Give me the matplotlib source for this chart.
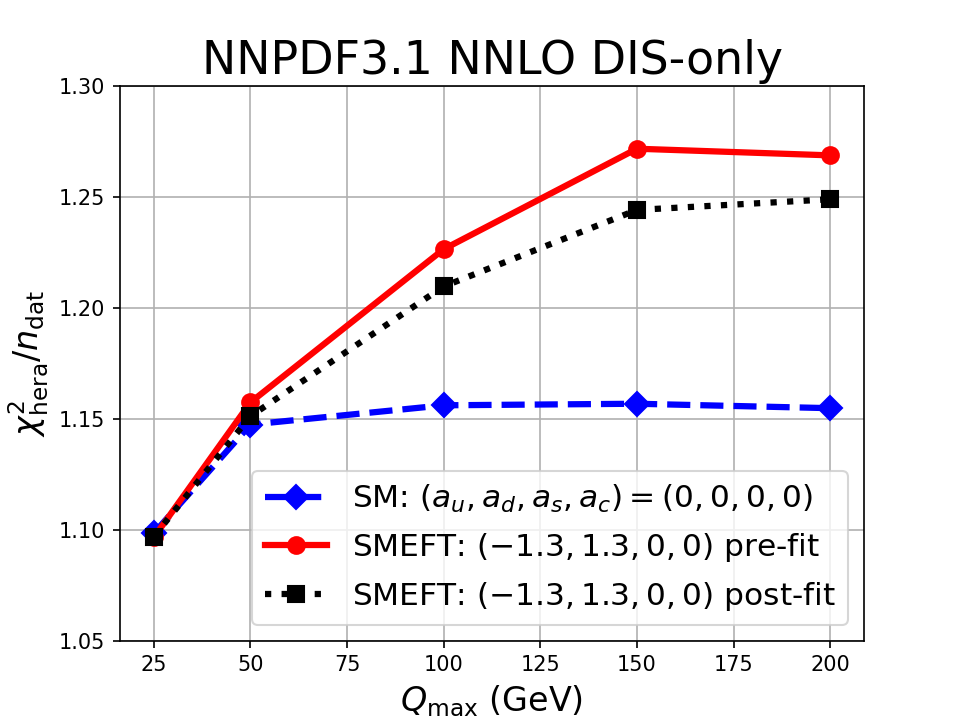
import numpy as np
import matplotlib
matplotlib.use("Agg")
import matplotlib.pyplot as plt

# Q_max values (GeV)
qmax = [25, 50, 100, 150, 200]

# chi2/ndat for each scenario
chi2_sm = [1.0985, 1.1475, 1.1562, 1.1569, 1.1549]
chi2_prefit = [1.0966, 1.1575, 1.2266, 1.2719, 1.2689]
chi2_postfit = [1.0970, 1.1513, 1.2098, 1.2443, 1.2491]

labels = [
    r'SM: $(a_u, a_d, a_s, a_c) = (0, 0, 0, 0)$',
    r'SMEFT: $(-1.3, 1.3, 0, 0)$ pre-fit',
    r'SMEFT: $(-1.3, 1.3, 0, 0)$ post-fit',
]


def main():
    fig, ax = plt.subplots(figsize=(6.4, 4.8), dpi=150)

    ax.plot(qmax, chi2_sm, color='blue', linestyle='--', marker='D',
            lw=3, ms=8, label=labels[0])
    ax.plot(qmax, chi2_prefit, color='red', linestyle='-', marker='o',
            lw=3, ms=8, label=labels[1])
    ax.plot(qmax, chi2_postfit, color='black', linestyle=':', marker='s',
            lw=3, ms=8, label=labels[2])

    ax.set_ylim(1.05, 1.30)
    ax.set_xticks([25, 50, 75, 100, 125, 150, 175, 200])
    ax.set_xlabel(r'$Q_{\rm max}$ (GeV)', fontsize=16)
    ax.set_ylabel(r'$\chi^2_{\rm hera}/n_{\rm dat}$', fontsize=16)
    ax.set_title('NNPDF3.1 NNLO DIS-only', fontsize=22)
    ax.grid(True)
    ax.legend(loc='lower right', fontsize=15)

    fig.savefig('out.png', dpi=150)


if __name__ == "__main__":
    main()
